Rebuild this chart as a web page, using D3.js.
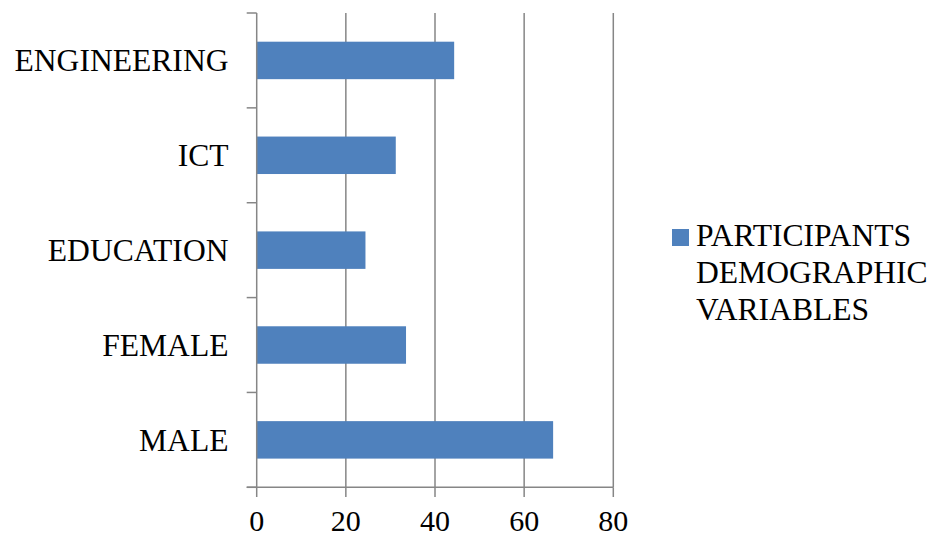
<!DOCTYPE html>
<html><head><meta charset="utf-8">
<script src="https://cdn.jsdelivr.net/npm/d3@7"></script>
<style>body{margin:0;background:#fff}svg{display:block}</style>
</head><body>
<script>
const categories = ["ENGINEERING", "ICT", "EDUCATION", "FEMALE", "MALE"];
const values = [44.3, 31.2, 24.4, 33.5, 66.5];
const xTicks = [0, 20, 40, 60, 80];
const seriesName = ["PARTICIPANTS", "DEMOGRAPHIC", "VARIABLES"];

const W = 932, H = 540;
const font = "'Liberation Serif', 'Times New Roman', Times, 'DejaVu Serif', serif";
const svg = d3.select("body").append("svg").attr("width", W).attr("height", H);

const probe = svg.append("text").style("font-family", font).style("font-size", "100px").text("ENGINEERING");
const pw = probe.node().getComputedTextLength();
probe.remove();
const fs = Math.min(32, 100 * 214 / pw);

const x = d3.scaleLinear().domain([0, 80]).range([256.7, 613.3]);
const y = d3.scaleBand().domain(categories).range([13, 487.3]).paddingInner(0.605).paddingOuter(0.3025);

const grid = "#868686";
svg.append("g").selectAll("line").data(xTicks.slice(1)).join("line")
  .attr("x1", d => x(d)).attr("x2", d => x(d))
  .attr("y1", 13).attr("y2", 487.3)
  .attr("stroke", grid).attr("stroke-width", 1.5);

svg.append("g").selectAll("rect").data(categories).join("rect")
  .attr("x", x(0)).attr("y", d => y(d))
  .attr("width", (d, i) => x(values[i]) - x(0))
  .attr("height", y.bandwidth())
  .attr("fill", "#4F81BD");

svg.append("line").attr("x1", x(0)).attr("x2", x(0)).attr("y1", 13).attr("y2", 487.3)
  .attr("stroke", grid).attr("stroke-width", 1.5);
const step = y.step();
const yTickPos = d3.range(categories.length + 1).map(i => 13 + i * step);
svg.append("g").selectAll("line").data(yTickPos).join("line")
  .attr("x1", x(0) - 10).attr("x2", x(0)).attr("y1", d => d).attr("y2", d => d)
  .attr("stroke", grid).attr("stroke-width", 1.5);

svg.append("line").attr("x1", x(0) - 10).attr("x2", x(80)).attr("y1", 487.3).attr("y2", 487.3)
  .attr("stroke", grid).attr("stroke-width", 1.5);
svg.append("g").selectAll("line").data(xTicks).join("line")
  .attr("x1", d => x(d)).attr("x2", d => x(d)).attr("y1", 487.3).attr("y2", 497)
  .attr("stroke", grid).attr("stroke-width", 1.5);

svg.append("g").selectAll("text").data(xTicks).join("text")
  .attr("x", d => x(d)).attr("y", 531)
  .attr("text-anchor", "middle")
  .style("font-family", font).style("font-size", (fs * 0.95) + "px").attr("fill", "#000")
  .text(d => d);

svg.append("g").selectAll("text").data(categories).join("text")
  .attr("x", 228.5).attr("y", d => y(d) + y.bandwidth() / 2 + 11)
  .attr("text-anchor", "end")
  .style("font-family", font).style("font-size", fs + "px").attr("fill", "#000")
  .text(d => d);

svg.append("rect").attr("x", 672).attr("y", 229).attr("width", 17).attr("height", 17).attr("fill", "#4F81BD");
svg.append("g").selectAll("text").data(seriesName).join("text")
  .attr("x", 696).attr("y", (d, i) => 245.7 + i * 37.2)
  .style("font-family", font).style("font-size", fs + "px").attr("fill", "#000")
  .text(d => d);
</script>
</body></html>
